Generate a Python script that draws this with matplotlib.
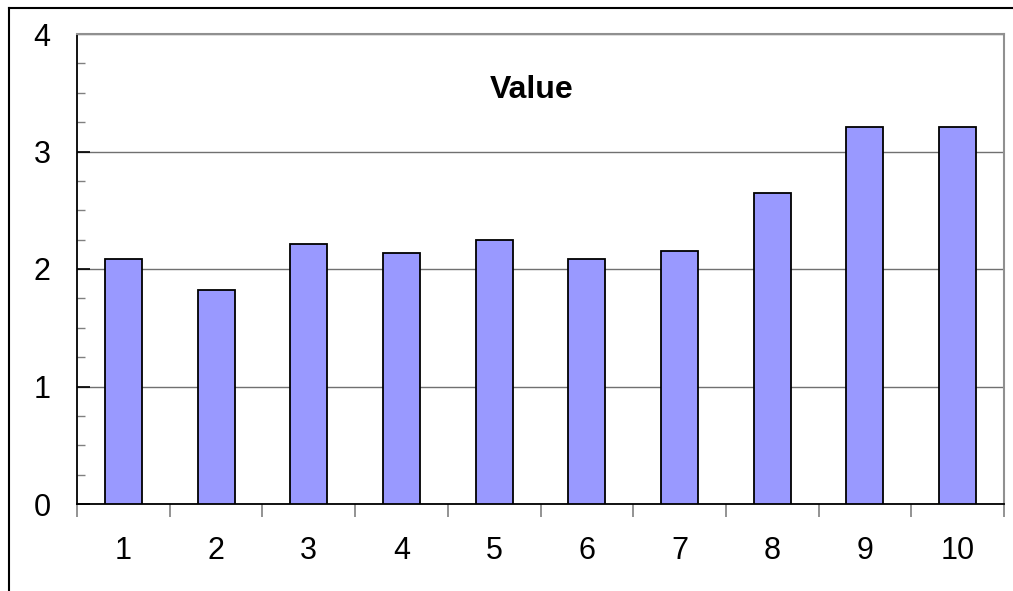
import matplotlib.pyplot as plt
from matplotlib.lines import Line2D
from matplotlib.ticker import MultipleLocator, FixedLocator
import numpy as np

categories = ["1", "2", "3", "4", "5", "6", "7", "8", "9", "10"]
values = [2.085, 1.825, 2.21, 2.14, 2.248, 2.087, 2.155, 2.646, 3.205, 3.205]

plt.rcParams["font.family"] = ["Liberation Sans", "DejaVu Sans"]

fig = plt.figure(figsize=(10.13, 5.91), dpi=100)
ax = fig.add_axes([77 / 1013, (591 - 504) / 591, 927 / 1013, 470 / 591])

x = np.arange(1, len(categories) + 1)
ax.bar(x, values, 0.4, color="#9999ff", edgecolor="black", linewidth=1.3, zorder=3)

ax.set_xlim(0.5, 10.5)
ax.set_ylim(0, 4)

# y axis: majors every 1, minors every 0.25, both inside
ax.yaxis.set_major_locator(MultipleLocator(1))
ax.yaxis.set_minor_locator(MultipleLocator(0.25))
ax.tick_params(axis="y", which="major", direction="in", length=9, width=1.2,
               color="black", labelsize=22, pad=19)
ax.tick_params(axis="y", which="minor", direction="in", length=6, width=1,
               color="#808080")
ax.grid(axis="y", which="major", color="#707070", linewidth=1, zorder=0)

# x axis: labels at categories, tick marks between categories
ax.set_xticks(x)
ax.set_xticklabels(categories)
ax.xaxis.set_minor_locator(FixedLocator(np.arange(0.5, 11, 1)))
ax.tick_params(axis="x", which="major", length=0, labelsize=22, pad=23)
ax.tick_params(axis="x", which="minor", direction="out", length=9, width=1.2,
               color="#808080")

for side in ["top", "right"]:
    ax.spines[side].set_color("#909090")
    ax.spines[side].set_linewidth(1.5)
ax.spines["left"].set_color("black")
ax.spines["left"].set_linewidth(1.3)
ax.spines["bottom"].set_color("black")
ax.spines["bottom"].set_linewidth(1.3)

ax.text(0.49, 0.88, "Value", transform=ax.transAxes, ha="center", va="center",
        fontsize=23, fontweight="bold")

# chart area frame (left and top edges)
fig.add_artist(Line2D([9 / 1013, 9 / 1013], [0, 1 - 8 / 591],
                      transform=fig.transFigure, color="black", linewidth=1.5))
fig.add_artist(Line2D([9 / 1013, 1], [1 - 8 / 591, 1 - 8 / 591],
                      transform=fig.transFigure, color="black", linewidth=1.5))

fig.savefig("out.png", dpi=100)
